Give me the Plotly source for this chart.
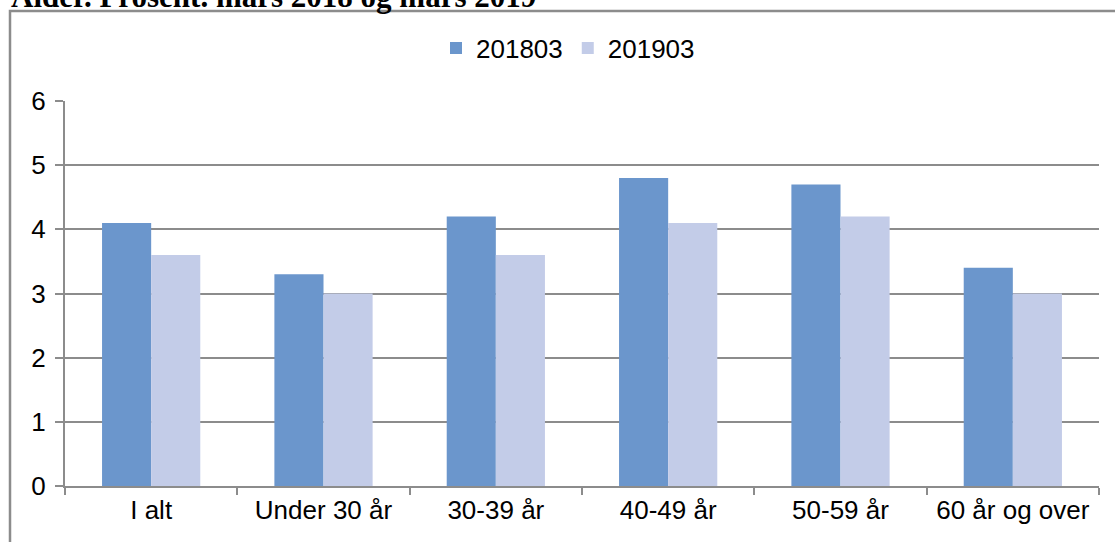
import plotly.graph_objects as go

categories = ["I alt", "Under 30 år", "30-39 år", "40-49 år", "50-59 år", "60 år og over"]
series_2018 = [4.1, 3.3, 4.2, 4.8, 4.7, 3.4]
series_2019 = [3.6, 3.0, 3.6, 4.1, 4.2, 3.0]
y_ticks = [0, 1, 2, 3, 4, 5, 6]

W, H = 1115, 542
ml, mr, mt, mb = 65, 16, 101, 56
pw, ph = W - ml - mr, H - mt - mb

def px(x):
    return (x - ml) / pw

def py(y):
    return 1 + (mt - y) / ph

FS = 26

fig = go.Figure()
fig.add_trace(go.Bar(name="201803", x=categories, y=series_2018, marker_color="#6b96cc",
                     marker_line_width=0))
fig.add_trace(go.Bar(name="201903", x=categories, y=series_2019, marker_color="#c3cce8",
                     marker_line_width=0))

fig.update_layout(
    width=W, height=H,
    margin=dict(l=ml, r=mr, t=mt, b=mb),
    paper_bgcolor="white", plot_bgcolor="white",
    barmode="group", bargap=0.43, bargroupgap=0,
    font=dict(family="Liberation Sans, Arial", size=FS, color="black"),
    legend=dict(orientation="h", x=px(568), xanchor="center", y=py(48), yanchor="middle",
                font=dict(size=FS), itemwidth=30, traceorder="normal"),
    xaxis=dict(showline=True, linecolor="#8c8c8c", linewidth=2, ticks="outside",
               tickson="boundaries", ticklen=7, tickcolor="#8c8c8c", tickwidth=2,
               showgrid=False, tickfont=dict(size=FS)),
    yaxis=dict(range=[0, 6], tickvals=y_ticks, showline=True, linecolor="#8c8c8c", linewidth=2,
               ticks="outside", ticklen=8, tickcolor="#8c8c8c", tickwidth=2,
               showgrid=True, gridcolor="#8c8c8c", gridwidth=2, zeroline=False,
               tickfont=dict(size=FS), ticklabelstandoff=4),
    shapes=[dict(type="rect", xref="paper", yref="paper",
                 x0=px(10), x1=px(1125), y0=py(560), y1=py(11),
                 line=dict(color="#8c8c8c", width=2.5), fillcolor="rgba(0,0,0,0)", layer="below")],
    annotations=[dict(text="<b>Alder. Prosent. mars 2018 og mars 2019</b>", xref="paper", yref="paper",
                      x=px(9), y=py(16), xanchor="left", yanchor="bottom", showarrow=False,
                      font=dict(family="Liberation Serif, Times New Roman", size=31, color="black"))],
)

fig.write_html("out.html", config={"displayModeBar": False},
               post_script="document.body.style.margin='0';document.body.style.overflow='hidden';")
